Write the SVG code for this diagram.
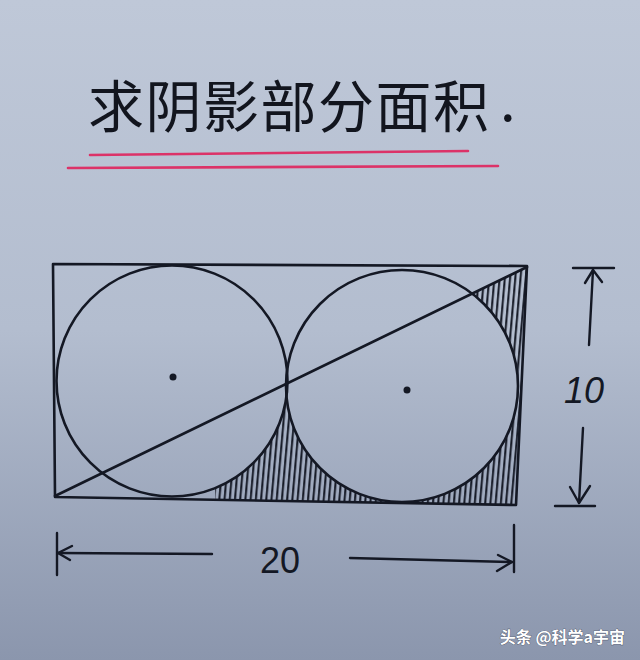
<svg xmlns="http://www.w3.org/2000/svg" width="640" height="660" viewBox="0 0 640 660">
  <defs>
    <linearGradient id="bg" x1="0" y1="0" x2="0" y2="1">
      <stop offset="0" stop-color="#bfc8d8"/>
      <stop offset="0.5" stop-color="#b3bdcf"/>
      <stop offset="1" stop-color="#8b96ad"/>
    </linearGradient>
    <pattern id="hatch" patternUnits="userSpaceOnUse" width="5.2" height="40" patternTransform="rotate(5)">
      <line x1="2" y1="0" x2="2" y2="40" stroke="#141824" stroke-width="2"/>
    </pattern>
    <mask id="shadeMask" maskUnits="userSpaceOnUse" x="0" y="0" width="640" height="660">
      <polygon points="215,418.4 527,267 516,505 215,500" fill="#fff"/>
      <circle cx="172" cy="381" r="115.5" fill="#000"/>
      <circle cx="402" cy="386" r="116" fill="#000"/>
    </mask>
    <style>
      .ink{fill:none;stroke:#141824;stroke-width:2.6;stroke-linecap:round;stroke-linejoin:round}
      .thin{fill:none;stroke:#141824;stroke-width:2.4;stroke-linecap:round;stroke-linejoin:round}
      .red{fill:none;stroke:#dc3268;stroke-width:2.6;stroke-linecap:round}
      .dot{fill:#141824}
      .num{font-family:"Liberation Sans","DejaVu Sans",sans-serif;font-size:36px;fill:#141824}
      .title{font-family:"Noto Sans CJK SC","Noto Sans CJK JP",sans-serif;font-size:56px;font-weight:400;fill:#12151e}
      .wm{font-family:"Noto Sans CJK SC",sans-serif;font-size:16px;font-weight:700;fill:#ffffff;stroke:#3a4150;stroke-width:0.6;paint-order:stroke}
    </style>
  </defs>

  <rect x="0" y="0" width="640" height="660" fill="url(#bg)"/>

  <g id="title">
    <text class="title" x="88" y="127" letter-spacing="1.5">求阴影部分面积<tspan x="500" y="121">.</tspan></text>
    <line class="red" x1="90" y1="155" x2="468" y2="151"/>
    <line class="red" x1="68" y1="168" x2="498" y2="166"/>
  </g>

  <g id="shading">
    <rect x="200" y="250" width="340" height="270" fill="url(#hatch)" mask="url(#shadeMask)"/>
  </g>

  <g id="rectangle">
    <polygon class="ink" points="53,264 527,266 516,505 55,497"/>
  </g>

  <g id="circle1">
    <circle class="ink" cx="172" cy="381" r="115.5"/>
    <circle class="dot" cx="173" cy="377" r="3.5"/>
  </g>

  <g id="circle2">
    <circle class="ink" cx="402" cy="386" r="116"/>
    <circle class="dot" cx="407" cy="390" r="3.5"/>
  </g>

  <g id="connectors">
    <line id="diagonal" class="ink" x1="55" y1="496" x2="527" y2="267"/>

    <g id="dim-10">
      <line class="thin" x1="573" y1="268" x2="614" y2="268"/>
      <line class="thin" x1="589" y1="345" x2="593" y2="270"/>
      <polyline class="thin" points="585,283 593,270 602,282"/>
      <line class="thin" x1="583" y1="428" x2="579" y2="503"/>
      <polyline class="thin" points="570,487 579,503 590,486"/>
      <line class="thin" x1="555" y1="506" x2="595" y2="506"/>
    </g>

    <g id="dim-20">
      <line class="thin" x1="57" y1="533" x2="57" y2="575"/>
      <line class="thin" x1="58" y1="553" x2="212" y2="554"/>
      <polyline class="thin" points="72,546 58,553 70,560"/>
      <line class="thin" x1="350" y1="558" x2="512" y2="562"/>
      <polyline class="thin" points="498,555 512,562 497,571"/>
      <line class="thin" x1="514" y1="525" x2="514" y2="572"/>
    </g>
  </g>

  <g id="labels">
    <text class="num" x="584" y="403" text-anchor="middle" font-style="italic">10</text>
    <text class="num" x="280" y="573" text-anchor="middle">20</text>
  </g>

  <g id="watermark">
    <text class="wm" x="625" y="643" text-anchor="end">头条 @科学a宇宙</text>
  </g>
</svg>
